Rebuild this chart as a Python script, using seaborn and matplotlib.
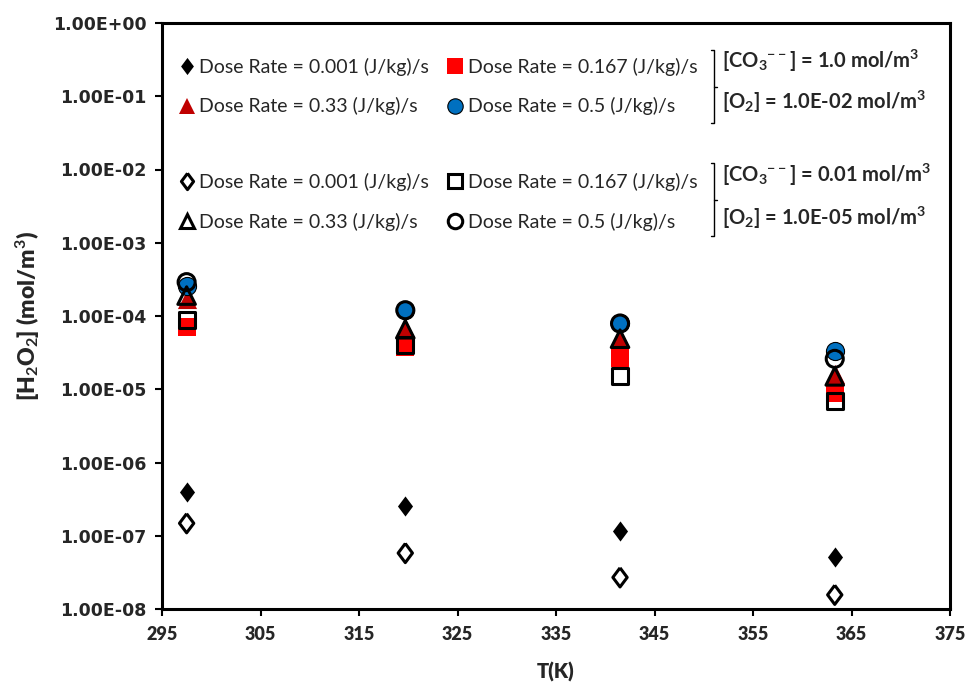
import numpy as np
import pandas as pd
import matplotlib.pyplot as plt
import seaborn as sns
from matplotlib.lines import Line2D
from matplotlib.ticker import FuncFormatter, LogLocator, NullLocator

# temperatures (K)
temps = [297.5, 319.7, 341.5, 363.3]
dose_labels = ["0.001", "0.167", "0.33", "0.5"]

# [CO3--] = 1.0 mol/m3, [O2] = 1.0E-02 mol/m3  (filled markers)
hi_0001 = [4.0e-7, 2.55e-7, 1.15e-7, 5.1e-8]
hi_0167 = [7.1e-5, 3.8e-5, 2.7e-5, 8.9e-6]
hi_033 = [1.7e-4, 6.8e-5, 5.0e-5, 1.6e-5]
hi_05 = [2.6e-4, 1.2e-4, 7.9e-5, 3.3e-5]

# [CO3--] = 0.01 mol/m3, [O2] = 1.0E-05 mol/m3  (open markers)
lo_0001 = [1.48e-7, 5.8e-8, 2.7e-8, 1.56e-8]
lo_0167 = [8.8e-5, 4.0e-5, 1.5e-5, 6.9e-6]
lo_033 = [1.9e-4, 6.6e-5, 4.9e-5, 1.5e-5]
lo_05 = [2.9e-4, 1.2e-4, 7.9e-5, 2.6e-5]

sns.set_style("ticks")
plt.rcParams['font.family'] = ['Lato', 'DejaVu Sans']
plt.rcParams['mathtext.fontset'] = 'custom'
plt.rcParams['mathtext.rm'] = 'Lato'
plt.rcParams['mathtext.bf'] = 'Lato:bold'
plt.rcParams['mathtext.default'] = 'bf'

# building a long table for seaborn
rows = []
for case, series in [("hi", [hi_0001, hi_0167, hi_033, hi_05]),
                     ("lo", [lo_0001, lo_0167, lo_033, lo_05])]:
    for dose, vals in zip(dose_labels, series):
        for t, v in zip(temps, vals):
            rows.append({"case": case, "dose": dose, "T": t, "H2O2": v})
df = pd.DataFrame(rows)

diamond = [(0, 1), (0.75, 0), (0, -1), (-0.75, 0), (0, 1)]

# marker styles (scatter kwargs) per series
styles = {
    ("hi", "0.001"): dict(marker=diamond, s=210, color='black', linewidth=0),
    ("hi", "0.167"): dict(marker='s', s=170, color='#FF0000', linewidth=0),
    ("hi", "0.33"): dict(marker='^', s=190, color='#C00000', linewidth=0),
    ("hi", "0.5"): dict(marker='o', s=170, color='#0070C0', edgecolor='black', linewidth=0.8),
    ("lo", "0.001"): dict(marker=diamond, s=190, facecolor='none', edgecolor='black', linewidth=2.2),
    ("lo", "0.167"): dict(marker='s', s=130, facecolor='none', edgecolor='black', linewidth=2.2),
    ("lo", "0.33"): dict(marker='^', s=160, facecolor='none', edgecolor='black', linewidth=2.2),
    ("lo", "0.5"): dict(marker='o', s=150, facecolor='none', edgecolor='black', linewidth=2.2),
}

fig = plt.figure(figsize=(9.69, 6.86), dpi=100)
ax = fig.add_axes([162 / 969, 1 - 609 / 686, 788 / 969, 586 / 686])

for case in ["hi", "lo"]:
    for dose in dose_labels:
        sub = df[(df["case"] == case) & (df["dose"] == dose)]
        sns.scatterplot(data=sub, x="T", y="H2O2", ax=ax, legend=False,
                        **styles[(case, dose)])

ax.set_yscale('log')
ax.set_ylim(1e-8, 1)
ax.set_xlim(295, 375)
ax.set_xticks(np.arange(295, 376, 10))
ax.yaxis.set_major_locator(LogLocator(base=10, numticks=20))
ax.yaxis.set_minor_locator(NullLocator())
ax.yaxis.set_major_formatter(FuncFormatter(lambda v, _: f"{v:.2E}"))
ax.xaxis.offsetText.set_visible(False)
ax.yaxis.offsetText.set_visible(False)

for sp in ax.spines.values():
    sp.set_linewidth(2.2)
    sp.set_color('black')
ax.tick_params(axis='both', direction='out', length=5, width=1.5, color='black')
ax.tick_params(axis='y', pad=6)
ax.tick_params(axis='x', pad=7)
for lab in ax.get_xticklabels():
    lab.set_fontweight('heavy')
    lab.set_fontsize(13)
for lab in ax.get_yticklabels():
    lab.set_family('DejaVu Sans')
    lab.set_fontweight('bold')
    lab.set_fontsize(12.5)

ax.set_xlabel("T(K)", fontsize=14.5, fontweight='heavy', labelpad=14)
ax.set_ylabel(r"[H$_2$O$_2$] (mol/m$^3$)", fontsize=16.5, fontweight='heavy', labelpad=8)


def handle(case, dose):
    st = styles[(case, dose)]
    fc = st.get('facecolor', st.get('color'))
    ec = st.get('edgecolor', st.get('color'))
    if st['linewidth'] == 0:
        ec = fc
    return Line2D([], [], linestyle='none', marker=st['marker'],
                  markersize=np.sqrt(st['s']), markerfacecolor=fc,
                  markeredgecolor=ec, markeredgewidth=st['linewidth'])


def add_legend(case, top):
    order = ["0.001", "0.33", "0.167", "0.5"]
    hs = [handle(case, d) for d in order]
    labs = [f"Dose Rate = {d} (J/kg)/s" for d in order]
    leg = ax.legend(hs, labs, ncol=2, loc='upper left', bbox_to_anchor=(0.019, top),
                    frameon=False, fontsize=14, handlelength=1.0, handletextpad=0.15,
                    columnspacing=0.85, labelspacing=1.12, borderpad=0, borderaxespad=0,
                    markerscale=0.85)
    return leg


leg1 = add_legend("hi", 0.941)
ax.add_artist(leg1)
add_legend("lo", 0.744)

# condition notes with brackets
notes = [
    (0.936, 0.866, r"[CO$_3$$^{--}$] = 1.0 mol/m$^3$", r"[O$_2$] = 1.0E-02 mol/m$^3$", 0.954, 0.829),
    (0.740, 0.668, r"[CO$_3$$^{--}$] = 0.01 mol/m$^3$", r"[O$_2$] = 1.0E-05 mol/m$^3$", 0.761, 0.636),
]
for y1, y2, t1, t2, btop, bbot in notes:
    ax.text(0.711, y1, t1, transform=ax.transAxes, fontsize=14.5, fontweight='bold', va='center')
    ax.text(0.711, y2, t2, transform=ax.transAxes, fontsize=14.5, fontweight='bold', va='center')
    bx = 0.7005
    mid = (btop + bbot) / 2
    ax.plot([bx - 0.004, bx, bx, bx - 0.004], [btop, btop, bbot, bbot],
            transform=ax.transAxes, color='black', lw=1, clip_on=False)
    ax.plot([bx, bx + 0.004], [mid, mid], transform=ax.transAxes,
            color='black', lw=1, clip_on=False)

fig.savefig("out.png", dpi=100)
